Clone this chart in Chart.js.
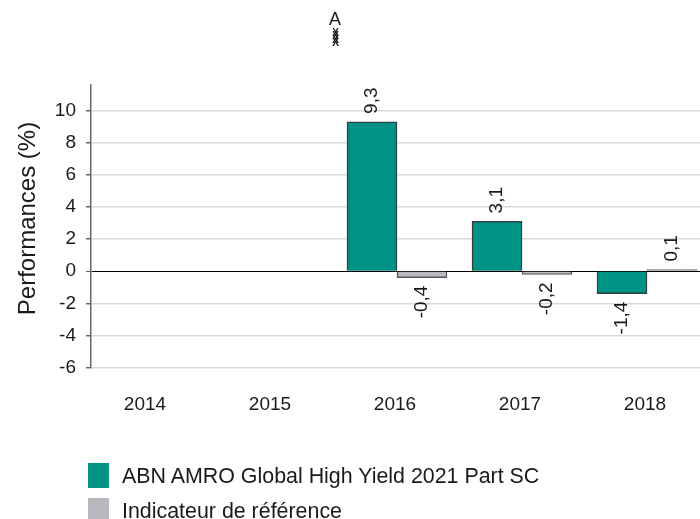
<!DOCTYPE html>
<html>
<head>
<meta charset="utf-8">
<script src="https://cdn.jsdelivr.net/npm/chart.js@4"></script>
<style>
  body { margin: 0; background: #fff; overflow: hidden; }
  #wrap { position: relative; width: 700px; height: 519px; overflow: hidden; }
  .key { position: absolute; left: 88px; width: 21px; height: 25px; }
  .keyText { position: absolute; left: 122px; font: 21.4px "Liberation Sans", Arial, sans-serif; color: #1a1a1a; white-space: nowrap; }
</style>
</head>
<body>
<div id="wrap"><canvas id="perfChart" width="700" height="519"></canvas></div>
<script>
const years = [2014, 2015, 2016, 2017, 2018];
const fundValues = [null, null, 9.3, 3.1, -1.4];
const refValues = [null, null, -0.4, -0.2, 0.1];
const fundName = "ABN AMRO Global High Yield 2021 Part SC";
const refName = "Indicateur de référence";
const yTicks = [-6, -4, -2, 0, 2, 4, 6, 8, 10];

const FONT = '"Liberation Sans", Arial, sans-serif';
const TEXT = "#1a1a1a";
const TEAL = "#009285";
const GREY = "#b7b9be";

function comma(v) {
  return String(v).replace(".", ",");
}

// value labels, axis title and the stray mark at the top
const extras = {
  id: "extras",
  afterDatasetsDraw(chart) {
    const c = chart.ctx;
    c.save();
    c.fillStyle = TEXT;
    c.textBaseline = "middle";
    c.font = "19px " + FONT;
    chart.data.datasets.forEach((ds, i) => {
      chart.getDatasetMeta(i).data.forEach((bar, j) => {
        const v = ds.data[j].y;
        if (v === null) return;
        c.save();
        c.translate(bar.x, v >= 0 ? bar.y - 8 : bar.y + 8);
        c.rotate(-Math.PI / 2);
        c.textAlign = v >= 0 ? "left" : "right";
        c.fillText(comma(v), 0, 0);
        c.restore();
      });
    });

    c.save();
    c.font = "24px " + FONT;
    c.textAlign = "center";
    c.translate(28.5, 218.5);
    c.rotate(-Math.PI / 2);
    c.fillText("Performances (%)", 0, 0);
    c.restore();

    c.textAlign = "center";
    c.font = "18px " + FONT;
    c.fillText("A", 335, 20);
    c.font = "bold 10px " + FONT;
    [33, 36.5, 40, 43.5].forEach(y => c.fillText("X", 335.5, y));
    c.restore();
  }
};

new Chart(document.getElementById("perfChart"), {
  type: "bar",
  data: {
    datasets: [
      {
        label: fundName,
        data: years.map((y, i) => ({ x: y, y: fundValues[i] })),
        backgroundColor: TEAL,
        borderColor: "#2f3f3d",
        borderWidth: 1.5
      },
      {
        label: refName,
        data: years.map((y, i) => ({ x: y, y: refValues[i] })),
        backgroundColor: GREY,
        borderColor: "#55585c",
        borderWidth: 1.5
      }
    ]
  },
  options: {
    responsive: false,
    animation: false,
    barThickness: 50,
    barPercentage: 1,
    categoryPercentage: 1,
    layout: { padding: { top: 85, bottom: 91.5, left: 0, right: 0 } },
    plugins: { legend: { display: false }, title: { display: false }, tooltip: { enabled: false } },
    scales: {
      x: {
        type: "linear",
        offset: false,
        min: 2013.552,
        max: 2018.424,
        afterBuildTicks(axis) {
          axis.ticks = years.map(y => ({ value: y }));
        },
        afterFit(axis) { axis.height = 60; },
        grid: { display: false },
        border: { display: false },
        ticks: {
          padding: 18,
          labelOffset: -2,
          maxRotation: 0,
          autoSkip: false,
          color: TEXT,
          font: { family: FONT, size: 19 },
          callback: v => String(v)
        }
      },
      y: {
        min: -6,
        max: 11.6,
        afterBuildTicks(axis) {
          axis.ticks = yTicks.map(v => ({ value: v }));
        },
        afterFit(axis) { axis.width = 91; },
        grid: {
          color: ctx => (ctx.tick && ctx.tick.value === 0 ? "#000" : "#d9d9d9"),
          lineWidth: ctx => (ctx.tick && ctx.tick.value === 0 ? 1 : 1.5),
          tickColor: "#666",
          tickLength: 5
        },
        border: { color: "#666", width: 1.5 },
        ticks: {
          padding: 10,
          color: TEXT,
          font: { family: FONT, size: 19 },
          callback: v => String(v)
        }
      }
    }
  },
  plugins: [extras]
});

// legend stacked under the plot, same as the source
const wrap = document.getElementById("wrap");
[[fundName, TEAL, 463], [refName, GREY, 498]].forEach(([name, colour, top]) => {
  const box = document.createElement("div");
  box.className = "key";
  box.style.top = top + "px";
  box.style.background = colour;
  wrap.appendChild(box);
  const txt = document.createElement("div");
  txt.className = "keyText";
  txt.style.top = (top + 1) + "px";
  txt.textContent = name;
  wrap.appendChild(txt);
});
</script>
</body>
</html>
